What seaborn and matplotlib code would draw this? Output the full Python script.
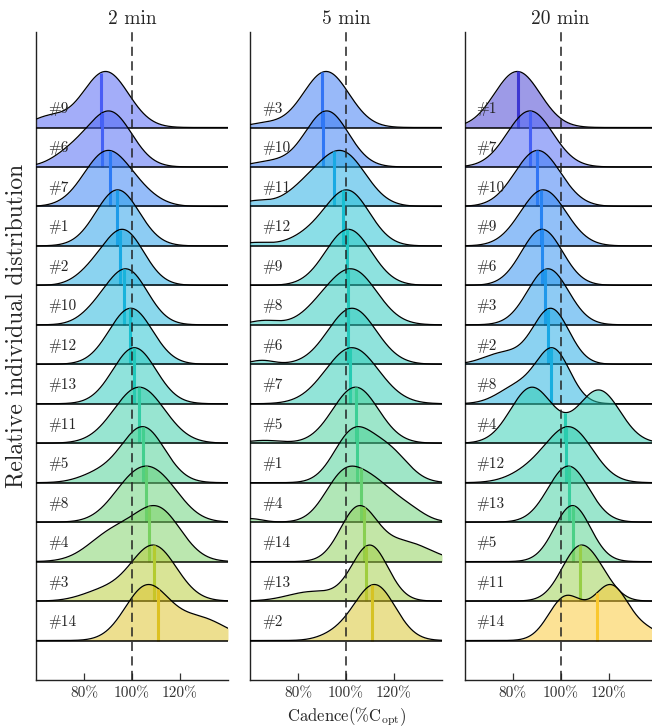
import numpy as np
import pandas as pd
import matplotlib
matplotlib.use("Agg")
import matplotlib.pyplot as plt
import seaborn as sns
from matplotlib.colors import LinearSegmentedColormap

# ---------------------------------------------------------------- data
panel_titles = ["2 min", "5 min", "20 min"]

# subjects listed top to bottom, cadence in % of optimal cadence
labels_2min = ["#9", "#6", "#7", "#1", "#2", "#10", "#12", "#13", "#11", "#5", "#8", "#4", "#3", "#14"]
medians_2min = [87.0, 87.5, 90.8, 93.8, 95.0, 96.7, 99.0, 101.0, 103.0, 104.6, 106.0, 107.0, 109.0, 111.0]
# density modes per subject: (centre, spread, relative height)
modes_2min = [
    [(89.0, 9.5, 1.0), (65.0, 7.0, 0.18)],
    [(91.0, 9.0, 1.0), (75.0, 8.0, 0.25)],
    [(89.5, 9.5, 1.0), (104.0, 8.0, 0.15)],
    [(94.0, 9.0, 1.0)],
    [(96.5, 8.5, 1.0), (83.0, 7.0, 0.18)],
    [(98.0, 8.5, 1.0), (85.0, 7.0, 0.18)],
    [(99.5, 9.0, 1.0)],
    [(101.0, 9.0, 1.0)],
    [(103.0, 10.5, 1.0)],
    [(104.6, 9.0, 1.0), (86.0, 8.0, 0.15)],
    [(101.0, 9.5, 1.0), (113.0, 9.0, 0.75)],
    [(111.0, 9.5, 1.0), (92.0, 10.0, 0.55)],
    [(109.0, 9.5, 1.0), (88.0, 9.0, 0.18)],
    [(106.0, 9.0, 1.0), (128.0, 11.0, 0.42)],
]

labels_5min = ["#3", "#10", "#11", "#12", "#9", "#8", "#6", "#7", "#5", "#1", "#4", "#14", "#13", "#2"]
medians_5min = [90.0, 90.4, 95.0, 98.8, 100.4, 101.0, 101.0, 101.7, 104.0, 104.4, 106.2, 107.6, 108.3, 110.7]
modes_5min = [
    [(91.7, 9.5, 1.0), (66.0, 7.0, 0.07)],
    [(92.0, 9.0, 1.0), (68.0, 8.0, 0.09)],
    [(99.0, 9.5, 1.0), (84.0, 9.0, 0.35), (62.0, 6.0, 0.10)],
    [(101.0, 9.0, 1.0), (86.0, 9.0, 0.20), (62.0, 6.0, 0.06)],
    [(101.0, 9.5, 1.0)],
    [(103.0, 10.0, 1.0), (89.0, 8.0, 0.20), (66.0, 6.0, 0.08)],
    [(102.5, 10.0, 1.0), (65.0, 5.0, 0.07)],
    [(102.5, 11.0, 1.0)],
    [(104.0, 9.5, 1.0), (66.0, 7.0, 0.05)],
    [(103.0, 8.0, 1.0), (118.0, 8.0, 0.60)],
    [(99.0, 8.0, 1.0), (113.0, 8.5, 0.75), (127.0, 6.5, 0.20), (60.0, 5.0, 0.08)],
    [(105.0, 7.5, 1.0), (124.0, 11.0, 0.38)],
    [(110.0, 7.5, 1.0), (86.0, 10.0, 0.17)],
    [(112.0, 8.5, 1.0), (96.0, 7.0, 0.10)],
]

labels_20min = ["#1", "#7", "#10", "#9", "#6", "#3", "#2", "#8", "#4", "#12", "#13", "#5", "#11", "#14"]
medians_20min = [82.2, 87.3, 90.2, 91.7, 92.3, 93.5, 94.8, 96.0, 102.0, 102.2, 103.5, 105.2, 108.0, 115.3]
modes_20min = [
    [(82.0, 9.5, 1.0)],
    [(87.3, 9.5, 1.0)],
    [(90.5, 9.5, 1.0)],
    [(92.8, 9.5, 1.0)],
    [(92.3, 8.5, 1.0)],
    [(94.8, 8.5, 1.0)],
    [(96.0, 7.5, 1.0), (76.0, 8.0, 0.20)],
    [(97.0, 7.0, 1.0), (82.0, 8.0, 0.32)],
    [(88.0, 8.8, 1.0), (116.0, 8.8, 0.95)],
    [(104.0, 9.5, 1.0), (88.0, 9.0, 0.20)],
    [(103.3, 8.5, 1.0)],
    [(105.0, 7.5, 1.0)],
    [(108.0, 7.5, 1.0), (118.0, 6.0, 0.20)],
    [(102.0, 7.0, 0.78), (121.0, 7.5, 1.0), (137.0, 6.0, 0.15)],
]

tick_values = [80, 100, 120]
tick_labels = ["80%", "100%", "120%"]
reference_cadence = 100

panels = [
    (labels_2min, medians_2min, modes_2min),
    (labels_5min, medians_5min, modes_5min),
    (labels_20min, medians_20min, modes_20min),
]

# ---------------------------------------------------------------- style
sns.set_theme(style="ticks")
plt.rcParams["font.family"] = ["cmr10", "DejaVu Serif"]
plt.rcParams["mathtext.fontset"] = "cm"
plt.rcParams["axes.formatter.use_mathtext"] = True

cadence_cmap = LinearSegmentedColormap.from_list(
    "cadence",
    [
        (0.00, "#3a2fc8"),
        (0.05, "#3d35d0"),
        (0.18, "#4a5cf5"),
        (0.29, "#2a7cf5"),
        (0.39, "#18a8e4"),
        (0.50, "#18c0d0"),
        (0.58, "#28ccb0"),
        (0.66, "#48d088"),
        (0.71, "#78d060"),
        (0.76, "#b0cc30"),
        (0.82, "#e0c020"),
        (0.95, "#ffc830"),
        (1.00, "#ffc830"),
    ],
)
cmin, cmax = 80.0, 118.0

xgrid = np.linspace(60, 140, 600)
peak_height = 1.42
n_rows = 14
y_top = 16.42

fig = plt.figure(figsize=(6.52, 7.26), dpi=100)
lefts = [36 / 652, 250 / 652, 464.5 / 652]
axes = [fig.add_axes([l, 46 / 726, 192 / 652, 648 / 726]) for l in lefts]

for ax, title, (labels, medians, modes) in zip(axes, panel_titles, panels):
    for i, (lab, med, comps) in enumerate(zip(labels, medians, modes)):
        base = n_rows - i
        dens = np.zeros_like(xgrid)
        for mu, sd, w in comps:
            dens += w * np.exp(-0.5 * ((xgrid - mu) / sd) ** 2)
        dens = dens / dens.max() * peak_height
        colour = cadence_cmap((med - cmin) / (cmax - cmin))
        z = 2 + i * 5
        curve = pd.DataFrame({"cadence": xgrid, "level": base + dens})
        ax.fill_between(xgrid, base, base + dens, color=colour, alpha=0.5,
                        lw=0, zorder=z)
        sns.lineplot(data=curve, x="cadence", y="level", ax=ax, color="black",
                     lw=0.9, estimator=None, sort=False, zorder=z + 1)
        ax.axhline(base, color="black", lw=1.1, zorder=z + 2)
        hmed = np.interp(med, xgrid, dens)
        ax.plot([med, med], [base, base + hmed], color=colour, lw=2.2,
                solid_capstyle="butt", zorder=z + 1.5)
        ax.text(65.0, base + 0.47, lab, fontsize=11, va="center", ha="left",
                zorder=200)

    ax.axvline(reference_cadence, color="#222222", lw=1.1, ls=(0, (6, 3.5)),
               zorder=150)
    ax.set_xlim(60, 140)
    ax.set_ylim(0, y_top)
    ax.set_xticks(tick_values)
    ax.set_xticklabels(tick_labels, fontsize=11)
    ax.set_yticks([])
    ax.set_xlabel("")
    ax.set_ylabel("")
    ax.tick_params(axis="x", direction="in", length=5, width=0.9, pad=5,
                   colors="#333333")
    ax.set_title(title, fontsize=14, pad=6)
    sns.despine(ax=ax)
    for sp in ("left", "bottom"):
        ax.spines[sp].set_linewidth(1.0)
        ax.spines[sp].set_color("#222222")

axes[0].set_ylabel("Relative individual distribution", fontsize=17)
axes[0].yaxis.set_label_coords(-0.045, 0.546)
axes[1].set_xlabel(r"Cadence(%C$_{\rm opt}$)", fontsize=12, labelpad=3)

fig.savefig("out.png", dpi=100)
